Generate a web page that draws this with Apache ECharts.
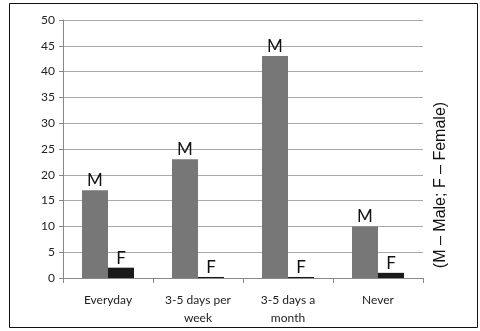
<!DOCTYPE html>
<html>
<head>
<meta charset="utf-8">
<script src="https://cdn.jsdelivr.net/npm/echarts@6/dist/echarts.min.js"></script>
<style>
  html, body { margin: 0; padding: 0; background: #fff; }
  #chart { width: 480px; height: 331px; }
</style>
</head>
<body>
<div id="chart"></div>
<script>
// Frequency categories and counts by sex
const categories = ['Everyday', '3-5 days per\nweek', '3-5 days a\nmonth', 'Never'];
const maleValues = [17, 23, 43, 10];
const femaleValues = [2, 0.2, 0.2, 1];
const yTicks = { min: 0, max: 50, interval: 5 };
const note = '(M \u2013 Male; F \u2013 Female)';

const FONT = 'Lato, "Open Sans", sans-serif';

const chart = echarts.init(document.getElementById('chart'), null, { renderer: 'canvas' });

chart.setOption({
  animation: false,
  backgroundColor: '#ffffff',
  grid: { left: 63, right: 57, top: 20, bottom: 53, containLabel: false },
  xAxis: {
    type: 'category',
    data: categories,
    axisLine: { show: true, lineStyle: { color: '#888888', width: 1 } },
    axisTick: { show: true, length: 5, lineStyle: { color: '#888888' } },
    axisLabel: { color: '#222222', fontFamily: FONT, fontSize: 12, lineHeight: 18, margin: 13 }
  },
  yAxis: {
    type: 'value',
    min: yTicks.min,
    max: yTicks.max,
    interval: yTicks.interval,
    axisLine: { show: true, lineStyle: { color: '#888888', width: 1 } },
    axisTick: { show: true, length: 4, lineStyle: { color: '#888888' } },
    axisLabel: { color: '#222222', fontFamily: FONT, fontSize: 12, margin: 8 },
    splitLine: { show: true, lineStyle: { color: '#a8a8a8', width: 1 } }
  },
  series: [
    {
      name: 'M',
      type: 'bar',
      data: maleValues,
      barWidth: 26,
      barGap: '0%',
      itemStyle: { color: '#777777' },
      label: {
        show: true, position: 'top', formatter: 'M', distance: 1,
        color: '#111111', fontFamily: FONT, fontSize: 17
      }
    },
    {
      name: 'F',
      type: 'bar',
      data: femaleValues,
      barWidth: 26,
      barGap: '0%',
      itemStyle: { color: '#1a1a1a' },
      label: {
        show: true, position: 'top', formatter: 'F', distance: 1,
        color: '#111111', fontFamily: FONT, fontSize: 17
      }
    }
  ],
  graphic: [
    {
      type: 'rect',
      shape: { x: 9.5, y: 3.5, width: 468, height: 324 },
      style: { fill: null, stroke: '#111111', lineWidth: 1 },
      silent: true
    },
    {
      type: 'text',
      x: 441,
      y: 185,
      rotation: Math.PI / 2,
      style: {
        text: note,
        fill: '#111111',
        font: '16px "Liberation Sans", Arial, sans-serif',
        align: 'center',
        verticalAlign: 'middle'
      }
    }
  ]
});
</script>
</body>
</html>
